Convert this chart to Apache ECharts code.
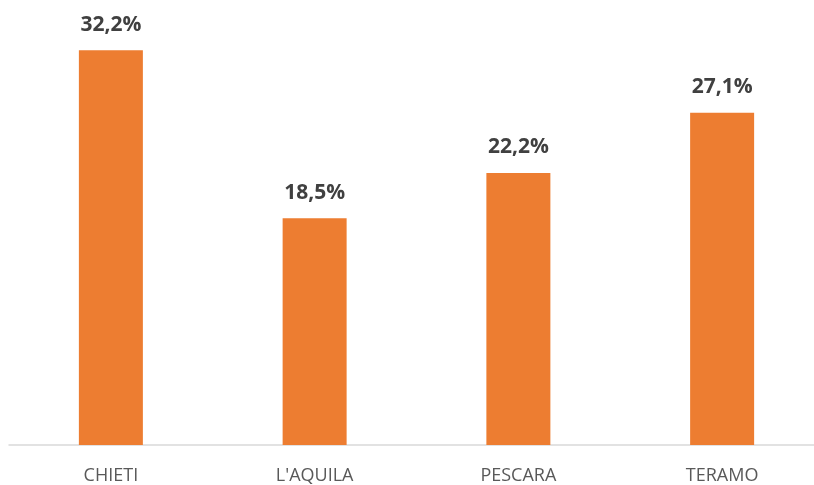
<!DOCTYPE html>
<html><head><meta charset="utf-8">
<script src="https://cdn.jsdelivr.net/npm/echarts@6/dist/echarts.min.js"></script>
<style>html,body{margin:0;padding:0;background:#fff;overflow:hidden;width:814px;height:485px}#c{width:824px;height:485px}</style>
</head><body><div id="c"></div>
<script>
const categories = ["CHIETI", "L'AQUILA", "PESCARA", "TERAMO"];
const values = [32.2, 18.5, 22.2, 27.1];

const chart = echarts.init(document.getElementById('c'), null, {renderer: 'canvas'});
chart.setOption({
  animation: false,
  grid: {left: 9, right: 0, top: 16, bottom: 40, containLabel: false},
  xAxis: {
    type: 'category', data: categories,
    axisLine: {lineStyle: {color: '#D9D9D9', width: 1.5}},
    axisTick: {show: false},
    axisLabel: {color: '#595959', fontSize: 18, fontFamily: 'Open Sans', margin: 22}
  },
  yAxis: {type: 'value', min: 0, max: 35, show: false, splitLine: {show: false}},
  series: [{
    type: 'bar', data: values, barWidth: 64,
    itemStyle: {color: '#ED7D31'},
    label: {
      show: true, position: 'top', distance: 15,
      formatter: p => p.value.toFixed(1).replace('.', ',') + '%',
      color: '#404040', fontSize: 21, fontWeight: 'bold', fontFamily: 'Open Sans'
    }
  }]
});
</script></body></html>
